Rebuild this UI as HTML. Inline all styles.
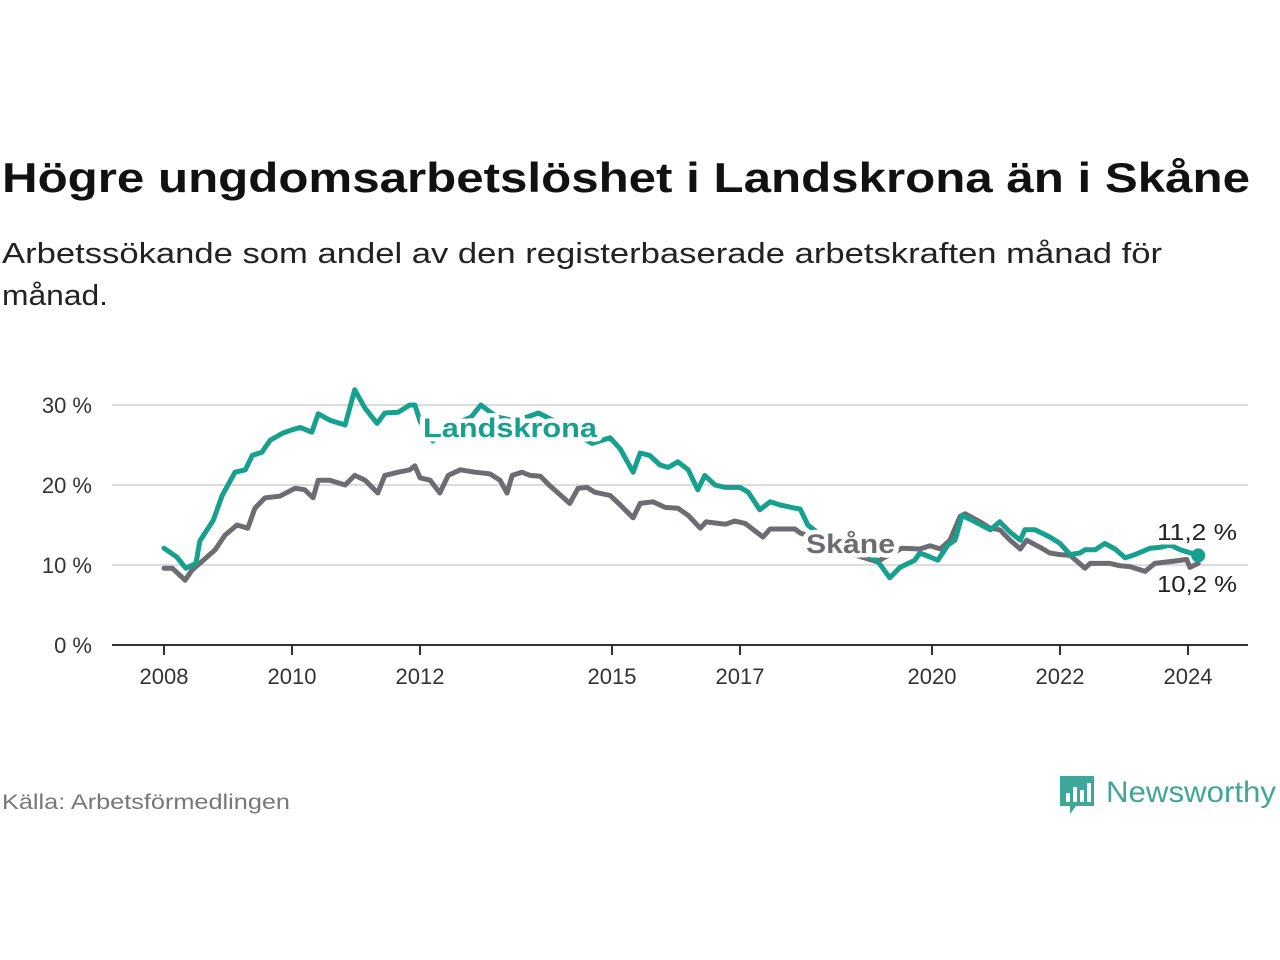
<!DOCTYPE html>
<html><head><meta charset="utf-8"><style>
html,body{margin:0;padding:0;background:#fff;}
svg{display:block;font-family:"Liberation Sans",sans-serif;}
</style></head><body>
<svg id="chart" width="1280" height="960" viewBox="0 0 1280 960" xmlns="http://www.w3.org/2000/svg">
<text x="2" y="192" font-size="42" font-weight="bold" fill="#111" textLength="1248" lengthAdjust="spacingAndGlyphs">Högre ungdomsarbetslöshet i Landskrona än i Skåne</text>
<text x="2" y="263" font-size="29" fill="#222" textLength="1160" lengthAdjust="spacingAndGlyphs">Arbetssökande som andel av den registerbaserade arbetskraften månad för</text>
<text x="2" y="305" font-size="29" fill="#222" textLength="106" lengthAdjust="spacingAndGlyphs">månad.</text>
<g id="grid"></g>
<g id="series"></g>
<g id="labels"></g>
<text x="2" y="809" font-size="21" fill="#777" textLength="288" lengthAdjust="spacingAndGlyphs">Källa: Arbetsförmedlingen</text>
<g>
<path d="M1060 776 h34 v30 h-18 l-6 8 v-8 h-10 z" fill="#3fa69a"/>
<rect x="1066" y="793" width="4" height="9" fill="#fff"/>
<rect x="1073" y="787" width="4" height="15" fill="#fff"/>
<rect x="1080" y="790" width="4" height="12" fill="#fff"/>
<rect x="1087" y="783" width="4" height="19" fill="#fff"/>
<text x="1106" y="802" font-size="30" fill="#3fa69a" textLength="170" lengthAdjust="spacingAndGlyphs">Newsworthy</text>
</g>
</svg>
<script>
const yTicks = [0, 10, 20, 30];
const xTickYears = [2008, 2010, 2012, 2015, 2017, 2020, 2022, 2024];
const landDates = [2008.00,2008.20,2008.34,2008.50,2008.56,2008.77,2008.91,2009.11,2009.27,2009.38,2009.53,2009.66,2009.86,2010.00,2010.13,2010.31,2010.41,2010.59,2010.83,2010.98,2011.14,2011.33,2011.45,2011.66,2011.84,2011.92,2012.00,2012.2,2012.5,2012.8,2012.95,2013.2,2013.5,2013.85,2014.1,2014.4,2014.69,2014.97,2015.13,2015.33,2015.44,2015.59,2015.75,2015.88,2016.03,2016.19,2016.34,2016.45,2016.61,2016.77,2017.00,2017.13,2017.31,2017.47,2017.63,2017.86,2017.94,2018.06,2018.3,2018.6,2018.9,2019.14,2019.34,2019.50,2019.73,2019.81,2019.97,2020.09,2020.25,2020.36,2020.47,2020.67,2020.91,2021.06,2021.22,2021.38,2021.45,2021.61,2021.84,2022.00,2022.16,2022.31,2022.39,2022.55,2022.70,2022.86,2023.02,2023.17,2023.41,2023.56,2023.72,2023.88,2024.16];
const landValues = [12.1,11,9.6,10.2,13,15.6,18.7,21.6,21.9,23.7,24.1,25.6,26.5,26.9,27.2,26.6,28.9,28.1,27.5,31.9,29.6,27.7,29,29.1,30,30,28,25.5,27.5,28.5,30,28.5,28,29,28,26.5,25.2,25.9,24.5,21.6,24,23.7,22.5,22.2,22.9,21.9,19.4,21.2,20,19.7,19.7,19.1,16.9,17.9,17.5,17.1,17,15,13.5,12.5,11.5,10.6,8.4,9.7,10.6,11.5,11,10.6,12.5,13.1,16.2,15.4,14.4,15.4,14.1,13.1,14.4,14.4,13.5,12.7,11.3,11.5,11.9,11.9,12.7,12,10.9,11.3,12.1,12.2,12.5,11.9,11.2];
const skaneDates = [2008.00,2008.13,2008.33,2008.44,2008.56,2008.80,2008.95,2009.14,2009.31,2009.42,2009.58,2009.81,2010.05,2010.20,2010.33,2010.41,2010.59,2010.83,2010.98,2011.14,2011.34,2011.45,2011.66,2011.84,2011.92,2012.00,2012.16,2012.31,2012.44,2012.63,2012.86,2013.09,2013.25,2013.36,2013.44,2013.59,2013.72,2013.88,2014.03,2014.34,2014.47,2014.61,2014.73,2014.97,2015.13,2015.33,2015.44,2015.64,2015.83,2016.03,2016.19,2016.38,2016.47,2016.66,2016.77,2016.92,2017.08,2017.36,2017.47,2017.86,2017.94,2018.3,2018.7,2019.14,2019.27,2019.53,2019.81,2019.97,2020.13,2020.28,2020.44,2020.52,2020.75,2020.91,2021.06,2021.22,2021.38,2021.48,2021.69,2021.84,2022.00,2022.16,2022.39,2022.47,2022.78,2022.94,2023.09,2023.33,2023.48,2023.80,2023.98,2024.03,2024.16];
const skaneValues = [9.6,9.6,8.1,9.4,10.2,11.9,13.7,15,14.6,17.1,18.4,18.6,19.6,19.4,18.4,20.6,20.6,20,21.2,20.6,19,21.2,21.6,21.9,22.4,20.9,20.6,19,21.2,21.9,21.6,21.4,20.6,19,21.2,21.6,21.2,21.1,19.9,17.7,19.6,19.7,19.1,18.7,17.5,15.9,17.7,17.9,17.2,17.1,16.2,14.6,15.4,15.2,15.1,15.5,15.2,13.5,14.5,14.5,14,13,11.5,10.4,11,12.1,12,12.4,12,13.1,16.1,16.4,15.4,14.6,14.4,13.1,12,13.1,12.2,11.5,11.3,11.2,9.6,10.2,10.2,9.9,9.8,9.2,10.2,10.5,10.7,9.7,10.2];
const landLast = "11,2 %";
const skaneLast = "10,2 %";

const NS = "http://www.w3.org/2000/svg";
const X = yr => 164 + (yr - 2008) * 64;
const Y = v => 645 - v * 8;
function mk(tag, attrs, parent){const e=document.createElementNS(NS,tag);for(const k in attrs)e.setAttribute(k,attrs[k]);parent.appendChild(e);return e;}
const grid=document.getElementById('grid'), series=document.getElementById('series'), labels=document.getElementById('labels');
yTicks.forEach(t=>{
  if(t>0){const l=mk('line',{x1:112,x2:1248,y1:Y(t),y2:Y(t),stroke:'#dcdcdc','stroke-width':2},grid);
  
  }
  const tx=mk('text',{x:92,y:Y(t)+8,'text-anchor':'end','font-size':22,fill:'#333'},grid);
  tx.textContent=t+' %';
  
  
});
const ax=mk('line',{x1:112,x2:1248,y1:645,y2:645,stroke:'#333','stroke-width':2},grid);


xTickYears.forEach(yr=>{
  const tk=mk('line',{x1:X(yr),x2:X(yr),y1:645,y2:655,stroke:'#333','stroke-width':2},grid);
  
  
  const tx=mk('text',{x:X(yr),y:684,'text-anchor':'middle','font-size':22,fill:'#333'},grid);
  tx.textContent=yr;
  
  
});
function line(d,v,color,name){
  const p=mk('path',{d:d.map((t,i)=>(i?'L':'M')+X(t).toFixed(1)+' '+Y(v[i]).toFixed(1)).join(' '),fill:'none',stroke:color,'stroke-width':5,'stroke-linejoin':'round','stroke-linecap':'round'},series);
  
  
}
line(skaneDates,skaneValues,'#6d6c72','skane-line');
line(landDates,landValues,'#16a08e','landskrona-line');
const dot=mk('circle',{cx:X(landDates[landDates.length-1]),cy:Y(landValues[landValues.length-1]),r:7,fill:'#16a08e'},series);


function lab(x,y,txt,color,weight,size,name,anchor,len){
  const t=mk('text',{x:x,y:y,fill:color,'font-weight':weight,'font-size':size,stroke:'#fff','stroke-width':9,'paint-order':'stroke','stroke-linejoin':'round','text-anchor':anchor||'start'},labels);
  if(len){t.setAttribute('textLength',len);t.setAttribute('lengthAdjust','spacingAndGlyphs');}
  t.textContent=txt;
  
  
}
lab(423,437,'Landskrona','#16a08e','bold',27,'landskrona-label','start',174);
lab(806,553,'Skåne','#6d6c72','bold',27,'skane-label','start',89);
lab(1237,540,landLast,'#222','normal',23,'landskrona-last-value','end',80);
lab(1237,592,skaneLast,'#222','normal',23,'skane-last-value','end',80);
</script>
</body></html>
